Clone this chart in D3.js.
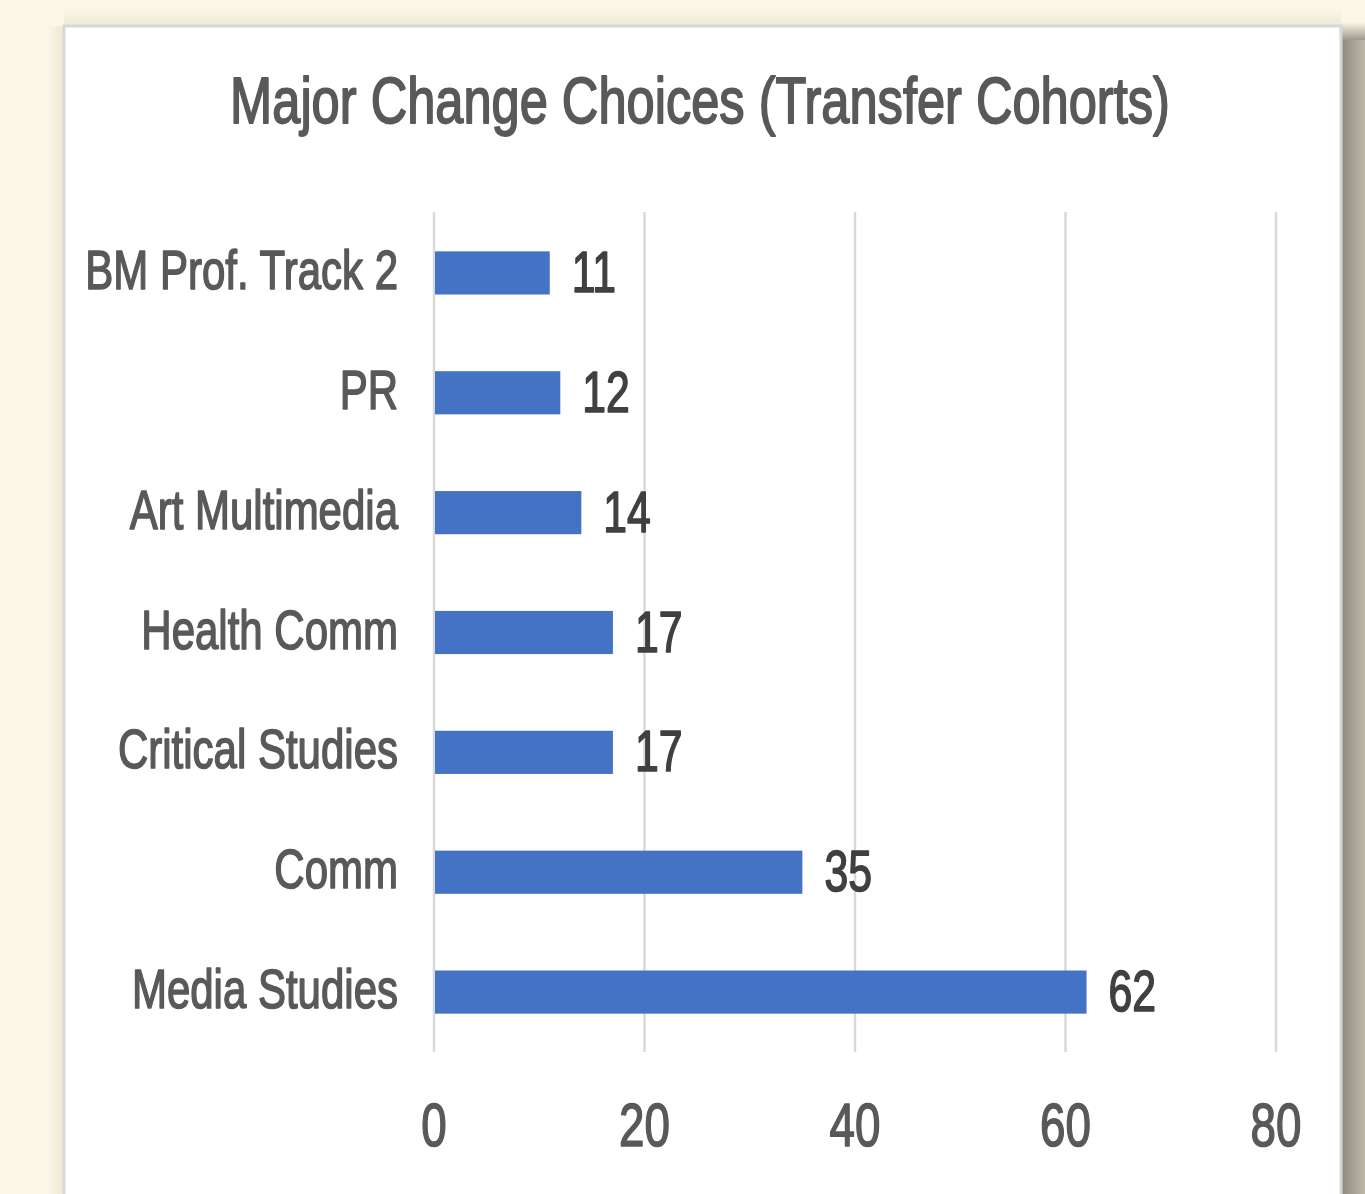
<!DOCTYPE html>
<html>
<head>
<meta charset="utf-8">
<script src="https://cdn.jsdelivr.net/npm/d3@7"></script>
<style>
  html, body { margin: 0; padding: 0; background: #fcf7e7; }
  svg { display: block; }
  text { font-family: "Liberation Sans", Arial, sans-serif; }
</style>
</head>
<body>
<svg id="chart" width="1365" height="1194"></svg>
<script>
// ---- data ----
const chartTitle = "Major Change Choices (Transfer Cohorts)";
const categories = ["BM Prof. Track 2", "PR", "Art Multimedia", "Health Comm", "Critical Studies", "Comm", "Media Studies"];
const values = [11, 12, 14, 17, 17, 35, 62];
const tickValues = [0, 20, 40, 60, 80];

// ---- layout ----
const W = 1365, H = 1194;
const panel = { x: 64, y: 26, w: 1277, h: 1170 };
const plot = { left: 434, right: 1276, top: 213, bottom: 1052 };
const SX = 0.75; // horizontal text compression

const svg = d3.select("#chart");
const defs = svg.append("defs");

// shadow gradients
const gR = defs.append("linearGradient").attr("id", "shR").attr("x1", 0).attr("x2", 1).attr("y1", 0).attr("y2", 0);
gR.append("stop").attr("offset", "0%").attr("stop-color", "#8d897d");
gR.append("stop").attr("offset", "60%").attr("stop-color", "#a9a598");
gR.append("stop").attr("offset", "100%").attr("stop-color", "#bcb8aa");
const gT = defs.append("linearGradient").attr("id", "shT").attr("x1", 0).attr("x2", 0).attr("y1", 0).attr("y2", 1);
gT.append("stop").attr("offset", "0%").attr("stop-color", "#fcf7e7");
gT.append("stop").attr("offset", "100%").attr("stop-color", "#9c988b");
const gL = defs.append("linearGradient").attr("id", "shL").attr("x1", 0).attr("x2", 1).attr("y1", 0).attr("y2", 0);
gL.append("stop").attr("offset", "0%").attr("stop-color", "#fcf7e7");
gL.append("stop").attr("offset", "100%").attr("stop-color", "#eee8d4");
const gTop = defs.append("linearGradient").attr("id", "shTop").attr("x1", 0).attr("x2", 0).attr("y1", 0).attr("y2", 1);
gTop.append("stop").attr("offset", "0%").attr("stop-color", "#fcf7e7");
gTop.append("stop").attr("offset", "100%").attr("stop-color", "#efe9d6");

svg.append("rect").attr("x", 0).attr("y", 0).attr("width", W).attr("height", H).attr("fill", "#fcf7e7");
svg.append("rect").attr("x", 46).attr("y", 26).attr("width", 18).attr("height", H - 26).attr("fill", "url(#shL)");
svg.append("rect").attr("x", 64).attr("y", 8).attr("width", 1277).attr("height", 18).attr("fill", "url(#shTop)");
svg.append("rect").attr("x", 1341).attr("y", 40).attr("width", 24).attr("height", H - 40).attr("fill", "url(#shR)");
svg.append("rect").attr("x", 1341).attr("y", 22).attr("width", 24).attr("height", 18).attr("fill", "url(#shT)");

svg.append("rect")
  .attr("x", panel.x).attr("y", panel.y).attr("width", panel.w).attr("height", panel.h)
  .attr("fill", "#ffffff").attr("stroke", "#d7d7d7").attr("stroke-width", 3);

// ---- scales ----
const x = d3.scaleLinear().domain([0, 80]).range([plot.left, plot.right]);
const y = d3.scaleBand().domain(categories).range([plot.top, plot.bottom])
  .paddingInner(0.64).paddingOuter(0.32);

// gridlines
svg.append("g").selectAll("line").data(tickValues).join("line")
  .attr("x1", d => x(d)).attr("x2", d => x(d))
  .attr("y1", plot.top - 1).attr("y2", plot.bottom)
  .attr("stroke", "#d9d9d9").attr("stroke-width", 2.5);

// bars
svg.append("g").selectAll("rect").data(categories).join("rect")
  .attr("x", x(0) + 1)
  .attr("y", d => y(d))
  .attr("width", (d, i) => x(values[i]) - x(0) - 1)
  .attr("height", y.bandwidth())
  .attr("fill", "#4472c4");

function squeezed(g, px, py, str, size, color, anchor) {
  return g.append("text")
    .attr("transform", `translate(${px},${py}) scale(${SX},1)`)
    .attr("text-anchor", anchor)
    .attr("font-size", size)
    .attr("fill", color)
    .attr("stroke", color)
    .attr("stroke-width", 1.6)
    .attr("stroke-linejoin", "round")
    .text(str);
}

// category labels
const catG = svg.append("g");
categories.forEach((c, i) => {
  const cy = y(c) + y.bandwidth() / 2;
  squeezed(catG, 398, cy + 16, c, 56, "#595959", "end");
});

// value labels
const valG = svg.append("g");
categories.forEach((c, i) => {
  const cy = y(c) + y.bandwidth() / 2;
  squeezed(valG, x(values[i]) + 22, cy + 19, String(values[i]), 57, "#404040", "start");
});

// x tick labels
const tickG = svg.append("g");
tickValues.forEach(t => {
  squeezed(tickG, x(t), 1146, String(t), 61, "#595959", "middle");
});

// title
const title = svg.append("text")
  .attr("text-anchor", "middle")
  .attr("font-size", 64)
  .attr("fill", "#595959")
  .attr("stroke", "#595959")
  .attr("stroke-width", 1.8)
  .attr("stroke-linejoin", "round")
  .text(chartTitle);
const tw = title.node().getComputedTextLength();
const tsx = 940 / tw;
title.attr("transform", `translate(700,123) scale(${tsx},1)`);
</script>
</body>
</html>
